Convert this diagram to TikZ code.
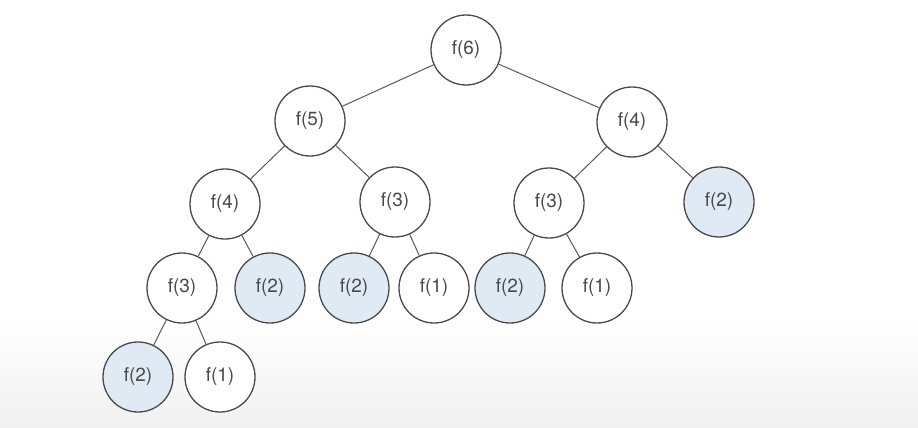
\documentclass[tikz,border=0pt]{standalone}
\usepackage{fontspec}
\setmainfont{TeX Gyre Heros}
\usepackage{tikz}
\definecolor{inkgrey}{HTML}{4A4A4A}
\definecolor{edgegrey}{HTML}{5A5A5A}
\definecolor{memoblue}{HTML}{DFEAF4}
\definecolor{floorgrey}{HTML}{F1F1F1}

\begin{document}
\begin{tikzpicture}[x=1pt,y=-1pt,
  call/.style={circle, draw=inkgrey, line width=1.3pt, fill=white, minimum size=70pt, inner sep=0pt,
    text=inkgrey, font=\fontsize{19}{22}\selectfont},
  memo/.style={call, fill=memoblue},
  link/.style={edgegrey, line width=1pt}]
\useasboundingbox (0,0) rectangle (918,428);
\fill[white] (0,0) rectangle (918,428);
\shade[top color=white, bottom color=floorgrey] (0,318) rectangle (918,428);
\node[call] (f6) at (466,50) {f(6)};
\node[call] (f5) at (310,121) {f(5)};
\node[call] (f4r) at (632,122) {f(4)};
\node[call] (f4l) at (225,204) {f(4)};
\node[call] (f3m) at (395,202) {f(3)};
\node[call] (f3r) at (549,203) {f(3)};
\node[memo] (f2r) at (719,202) {f(2)};
\node[call] (f3l) at (182,288) {f(3)};
\node[memo] (f2a) at (270,288) {f(2)};
\node[memo] (f2b) at (354,288) {f(2)};
\node[call] (f1a) at (434,288) {f(1)};
\node[memo] (f2c) at (510,288) {f(2)};
\node[call] (f1b) at (597,288) {f(1)};
\node[memo] (f2d) at (138,377) {f(2)};
\node[call] (f1c) at (220,377) {f(1)};
\draw[link] (f6) -- (f5);
\draw[link] (f6) -- (f4r);
\draw[link] (f5) -- (f4l);
\draw[link] (f5) -- (f3m);
\draw[link] (f4r) -- (f3r);
\draw[link] (f4r) -- (f2r);
\draw[link] (f4l) -- (f3l);
\draw[link] (f4l) -- (f2a);
\draw[link] (f3m) -- (f2b);
\draw[link] (f3m) -- (f1a);
\draw[link] (f3r) -- (f2c);
\draw[link] (f3r) -- (f1b);
\draw[link] (f3l) -- (f2d);
\draw[link] (f3l) -- (f1c);
\end{tikzpicture}
\end{document}
